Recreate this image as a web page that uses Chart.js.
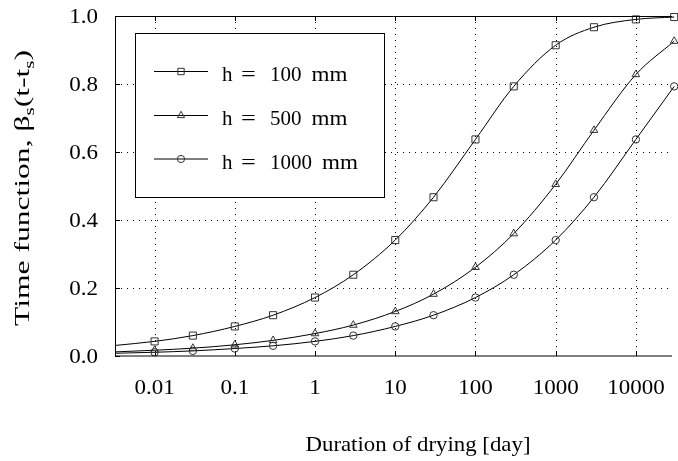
<!DOCTYPE html>
<html><head><meta charset="utf-8">
<script src="https://cdn.jsdelivr.net/npm/chart.js@4.4.1/dist/chart.umd.min.js"></script>
<style>html,body{margin:0;padding:0;background:#fff;overflow:hidden}canvas{display:block}</style>
</head><body>
<canvas id="c" width="678" height="461"></canvas>
<script>
// ---- data ----
const days  = [0.00321, 0.01, 0.03, 0.1, 0.3, 1, 3, 10, 30, 100, 300, 1000, 3000, 10000, 30000];
const h100  = [0.031, 0.043, 0.060, 0.087, 0.120, 0.172, 0.239, 0.341, 0.467, 0.637, 0.793, 0.914, 0.967, 0.990, 0.997];
const h500  = [0.012, 0.017, 0.023, 0.033, 0.046, 0.066, 0.091, 0.131, 0.182, 0.261, 0.360, 0.505, 0.664, 0.828, 0.926];
const h1000 = [0.008, 0.011, 0.015, 0.022, 0.030, 0.043, 0.060, 0.087, 0.120, 0.172, 0.239, 0.341, 0.467, 0.637, 0.793];
const seriesLabels = ['h = 100 mm', 'h = 500 mm', 'h = 1000 mm'];
const xTickValues = [0.01, 0.1, 1, 10, 100, 1000, 10000];
const xTickLabels = ['0.01', '0.1', '1', '10', '100', '1000', '10000'];
const yTickValues = [0, 0.2, 0.4, 0.6, 0.8, 1.0];
const yTickLabels = ['0.0', '0.2', '0.4', '0.6', '0.8', '1.0'];
const xTitle = 'Duration of drying [day]';
const yTitleParts = [['Time function, \u03B2', 0], ['s', 1], ['(t-t', 0], ['s', 1], [')', 0]];

const FONT = '"Liberation Serif", "Times New Roman", serif';

function drawText(ctx, str, x, y, size, sx, align) {
  ctx.save();
  ctx.font = size + 'px ' + FONT;
  ctx.textBaseline = 'alphabetic';
  ctx.textAlign = 'left';
  const w = ctx.measureText(str).width * sx;
  const x0 = align === 'center' ? x - w / 2 : (align === 'right' ? x - w : x);
  ctx.translate(x0, y);
  ctx.scale(sx, 1);
  ctx.fillStyle = '#000';
  ctx.fillText(str, 0, 0);
  ctx.restore();
  return w;
}
function fitText(ctx, str, x, y, size, targetW, align) {
  ctx.save();
  ctx.font = size + 'px ' + FONT;
  const w = ctx.measureText(str).width;
  ctx.restore();
  return drawText(ctx, str, x, y, size, targetW / w, align);
}

const gridPlugin = {
  id: 'gridPlugin',
  beforeDatasetsDraw(chart) {
    const {ctx, chartArea: {left, right, top, bottom}, scales: {x, y}} = chart;
    ctx.save();
    ctx.strokeStyle = '#000';
    ctx.lineWidth = 1;
    ctx.setLineDash([1, 5]);
    xTickValues.forEach(v => {
      const px = Math.round(x.getPixelForValue(v)) + 0.5;
      ctx.beginPath(); ctx.moveTo(px, top); ctx.lineTo(px, bottom); ctx.stroke();
    });
    yTickValues.forEach(v => {
      if (v <= 0 || v >= 1) return;
      const py = Math.round(y.getPixelForValue(v)) + 0.5;
      ctx.beginPath(); ctx.moveTo(left, py); ctx.lineTo(right, py); ctx.stroke();
    });
    ctx.setLineDash([]);
    // inward tick marks
    xTickValues.forEach(v => {
      const px = Math.round(x.getPixelForValue(v)) + 0.5;
      ctx.beginPath(); ctx.moveTo(px, bottom); ctx.lineTo(px, bottom - 5);
      ctx.moveTo(px, top); ctx.lineTo(px, top + 5); ctx.stroke();
    });
    yTickValues.forEach(v => {
      const py = Math.round(y.getPixelForValue(v)) + 0.5;
      ctx.beginPath(); ctx.moveTo(left, py); ctx.lineTo(left + 5, py); ctx.stroke();
    });
    ctx.restore();
  },
  afterDatasetsDraw(chart) {
    const {ctx, chartArea: {left, right, top, bottom}, scales: {x, y}} = chart;
    ctx.save();
    // frame
    ctx.strokeStyle = '#000';
    ctx.lineWidth = 1;
    ctx.beginPath();
    ctx.moveTo(left + 0.5, top); ctx.lineTo(left + 0.5, bottom);
    ctx.moveTo(left, top + 0.5); ctx.lineTo(right, top + 0.5);
    ctx.stroke();
    ctx.beginPath();
    ctx.moveTo(left, bottom); ctx.lineTo(right, bottom);
    ctx.stroke();

    // tick labels
    xTickValues.forEach((v, i) => {
      drawText(ctx, xTickLabels[i], x.getPixelForValue(v), 394, 20, 1.15, 'center');
    });
    yTickValues.forEach((v, i) => {
      drawText(ctx, yTickLabels[i], 98, y.getPixelForValue(v) + 6.7, 20, 1.15, 'right');
    });

    // x title
    fitText(ctx, xTitle, 418, 451, 21, 225, 'center');

    // y title (rotated, with subscripts)
    const S = 21, s = 14;
    ctx.save();
    let total = 0;
    yTitleParts.forEach(([t, sub]) => {
      ctx.font = (sub ? s : S) + 'px ' + FONT;
      total += ctx.measureText(t).width;
    });
    const L = 276;
    const sx = L / total;
    ctx.translate(29, 188);
    ctx.rotate(-Math.PI / 2);
    let cx = -L / 2;
    yTitleParts.forEach(([t, sub]) => {
      const w = drawText(ctx, t, cx, sub ? 4.5 : 0, sub ? s : S, sx, 'left');
      cx += w;
    });
    ctx.restore();

    // legend
    const bx = 135.5, by = 33.5, bw = 249, bh = 164;
    ctx.fillStyle = '#fff';
    ctx.fillRect(bx, by, bw, bh);
    ctx.strokeStyle = '#000';
    ctx.lineWidth = 1;
    ctx.strokeRect(bx, by, bw, bh);
    const rows = [71.5, 115.5, 159];
    chart.data.datasets.forEach((ds, i) => {
      const ry = rows[i];
      ctx.strokeStyle = '#000';
      ctx.lineWidth = 1;
      ctx.beginPath(); ctx.moveTo(154, ry); ctx.lineTo(208, ry); ctx.stroke();
      ctx.strokeStyle = ds.pointBorderColor;
      ctx.fillStyle = 'rgba(0,0,0,0)';
      ctx.lineWidth = 1;
      Chart.helpers.drawPoint(ctx, {pointStyle: ds.pointStyle, radius: ds.legendRadius, borderWidth: 1, rotation: 0}, 181, ry);
      const tokens = ds.label.split(' ');
      const base = ry + 9.5;
      drawText(ctx, tokens[0], 222, base, 21, 1.0, 'left');
      drawText(ctx, tokens[1], 248.5, base, 21, 1.25, 'center');
      const nw = drawText(ctx, tokens[2], 270, base, 21, 1.0, 'left');
      drawText(ctx, tokens[3], 270 + nw + 10, base, 21, 1.1, 'left');
    });
    ctx.restore();
  }
};

function makeDataset(label, values, style, r, lr) {
  return {
    label: label,
    data: days.map((d, i) => ({x: d, y: values[i]})),
    borderColor: '#000',
    borderWidth: 1,
    pointStyle: style,
    pointBorderColor: '#333',
    pointBackgroundColor: 'rgba(0,0,0,0)',
    pointBorderWidth: 1,
    pointRadius: (c) => c.dataIndex === 0 ? 0 : r,
    legendRadius: lr,
    cubicInterpolationMode: 'monotone',
    fill: false,
    clip: false
  };
}

new Chart(document.getElementById('c').getContext('2d'), {
  type: 'line',
  data: {
    datasets: [
      makeDataset(seriesLabels[0], h100, 'rect', 5, 4.5),
      makeDataset(seriesLabels[1], h500, 'triangle', 4.4, 4.2),
      makeDataset(seriesLabels[2], h1000, 'circle', 3.7, 3.6)
    ]
  },
  options: {
    responsive: false,
    animation: false,
    devicePixelRatio: 1,
    layout: {padding: {top: 16, left: 0, right: 0, bottom: 0}},
    plugins: {legend: {display: false}, tooltip: {enabled: false}},
    scales: {
      x: {
        type: 'logarithmic', min: 0.00321, max: 28180,
        afterBuildTicks: (s) => { s.ticks = xTickValues.map(v => ({value: v})); },
        afterFit: (s) => { s.height = 105; },
        ticks: {display: false}, grid: {display: false}, border: {display: false}
      },
      y: {
        type: 'linear', min: 0, max: 1,
        afterBuildTicks: (s) => { s.ticks = yTickValues.map(v => ({value: v})); },
        afterFit: (s) => { s.width = 115; },
        ticks: {display: false}, grid: {display: false}, border: {display: false}
      }
    }
  },
  plugins: [gridPlugin]
});
</script>
</body></html>
